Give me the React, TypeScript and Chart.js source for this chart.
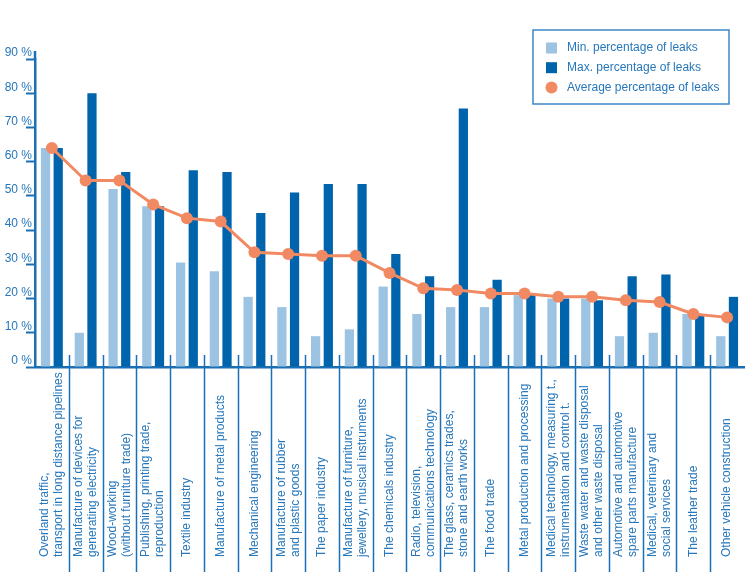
import React, { useEffect, useRef } from "react";
import { Chart, registerables } from "chart.js";

Chart.register(...registerables);

const categories: string[][] = [
  ["Overland traffic,", "transport in long distance pipelines"],
  ["Manufacture of devices for", "generating electricity"],
  ["Wood-working", "(without furniture trade)"],
  ["Publishing, printing trade,", "reproduction"],
  ["Textile industry"],
  ["Manufacture of metal products"],
  ["Mechanical engineering"],
  ["Manufacture of rubber", "and plastic goods"],
  ["The paper industry"],
  ["Manufacture of furniture,", "jewellery, musical instruments"],
  ["The chemicals industry"],
  ["Radio, television,", "communications technology"],
  ["The glass, ceramics trades,", "stone and earth works"],
  ["The food trade"],
  ["Metal production and processing"],
  ["Medical technology, measuring t.,", "instrumentation and control t."],
  ["Waste water and waste disposal", "and other waste disposal"],
  ["Automotive and automotive", "spare parts manufacture"],
  ["Medical, veterinary and", "social services"],
  ["The leather trade"],
  ["Other vehicle construction"],
];

const minLeaks = [64, 10, 52, 47, 30.5, 28, 20.5, 17.5, 9, 11, 23.5, 15.5, 17.5, 17.5, 21, 20, 20, 9, 10, 15.5, 9];
const maxLeaks = [64, 80, 57, 47, 57.5, 57, 45, 51, 53.5, 53.5, 33, 26.5, 75.5, 25.5, 21.5, 20, 19.5, 26.5, 27, 15, 20.5];
const avgLeaks = [64, 54.5, 54.5, 47.5, 43.5, 42.5, 33.5, 33, 32.5, 32.5, 27.5, 23, 22.5, 21.5, 21.5, 20.5, 20.5, 19.5, 19, 15.5, 14.5];

const seriesNames = ["Min. percentage of leaks", "Max. percentage of leaks", "Average percentage of leaks"];
const yTicks = [0, 10, 20, 30, 40, 50, 60, 70, 80, 90];

const LIGHT = "#9cc3e1";
const DARK = "#0064ad";
const ORANGE = "#f18a62";
const AXIS = "#1a6fb5";
const TEXT = "#2677bb";
const FONT = '"Liberation Sans", Arial, sans-serif';

const decorPlugin = {
  id: "decor",
  afterDraw(chart: any) {
    const { ctx, chartArea } = chart;
    const xs = chart.scales.x;
    ctx.save();
    // category separators
    ctx.strokeStyle = AXIS;
    ctx.lineWidth = 1.5;
    for (let i = 0; i < categories.length - 1; i++) {
      const x = Math.round((xs.getPixelForValue(i) + xs.getPixelForValue(i + 1)) / 2) + 0.5;
      ctx.beginPath();
      ctx.moveTo(x, chartArea.bottom - 12);
      ctx.lineTo(x, chartArea.bottom + 205);
      ctx.stroke();
    }
    // y axis small extension above top tick
    ctx.lineWidth = 2.5;
    ctx.beginPath();
    ctx.moveTo(chartArea.left, chartArea.top - 8);
    ctx.lineTo(chartArea.left, chartArea.top);
    ctx.stroke();

    // x labels, rotated, anchored at bottom
    ctx.fillStyle = TEXT;
    ctx.font = `12px ${FONT}`;
    ctx.textAlign = "left";
    ctx.textBaseline = "middle";
    categories.forEach((lines, i) => {
      const cx = xs.getPixelForValue(i);
      lines.forEach((t, j) => {
        const x = cx + (j - (lines.length - 1) / 2) * 14;
        ctx.save();
        ctx.translate(x, chartArea.bottom + 190);
        ctx.rotate(-Math.PI / 2);
        ctx.fillText(t, 0, 0);
        ctx.restore();
      });
    });

    // legend box
    const lx = chartArea.right - 211;
    const ly = 30;
    const lw = 196;
    const lh = 74;
    ctx.fillStyle = "#ffffff";
    ctx.fillRect(lx, ly, lw, lh);
    ctx.strokeStyle = "#3d87c6";
    ctx.lineWidth = 1.5;
    ctx.strokeRect(lx, ly, lw, lh);
    const colors = [LIGHT, DARK, ORANGE];
    seriesNames.forEach((name, k) => {
      const y = ly + 18 + k * 19.7;
      ctx.fillStyle = colors[k];
      if (k < 2) {
        ctx.fillRect(lx + 13, y - 5.5, 11, 11);
      } else {
        ctx.beginPath();
        ctx.arc(lx + 18.5, y, 6, 0, Math.PI * 2);
        ctx.fill();
      }
      ctx.fillStyle = TEXT;
      ctx.font = `12px ${FONT}`;
      ctx.textAlign = "left";
      ctx.textBaseline = "middle";
      ctx.fillText(name, lx + 34, y);
    });
    ctx.restore();
  },
};

export default function App() {
  const ref = useRef<HTMLCanvasElement>(null);
  useEffect(() => {
    Chart.defaults.font.family = FONT;
    const chart = new Chart(ref.current as HTMLCanvasElement, {
      type: "bar",
      data: {
        labels: categories.map((c) => c.join(" ")),
        datasets: [
          {
            type: "bar",
            label: seriesNames[0],
            data: minLeaks,
            backgroundColor: LIGHT,
            categoryPercentage: 0.75,
            barPercentage: 0.73,
            order: 1,
          },
          {
            type: "bar",
            label: seriesNames[1],
            data: maxLeaks,
            backgroundColor: DARK,
            categoryPercentage: 0.75,
            barPercentage: 0.73,
            order: 2,
          },
          {
            type: "line",
            label: seriesNames[2],
            data: avgLeaks,
            borderColor: ORANGE,
            backgroundColor: ORANGE,
            borderWidth: 3,
            pointRadius: 6,
            pointBorderWidth: 0,
            pointBackgroundColor: ORANGE,
            tension: 0,
            order: 0,
          } as any,
        ],
      },
      options: {
        animation: false,
        responsive: true,
        maintainAspectRatio: false,
        layout: { padding: { top: 59, right: 6, bottom: 0, left: 0 } },
        plugins: { legend: { display: false }, tooltip: { enabled: false } },
        scales: {
          x: {
            ticks: { display: false },
            grid: { display: true, drawOnChartArea: false, drawTicks: false },
            border: { display: true, color: AXIS, width: 2.5 },
            afterFit: (s: any) => {
              s.height = 211;
            },
          },
          y: {
            min: 0,
            max: 90,
            afterBuildTicks: (s: any) => {
              s.ticks = yTicks.map((v) => ({ value: v }));
            },
            ticks: {
              stepSize: 10,
              callback: (v: any) => `${v} %`,
              color: TEXT,
              font: { size: 12 },
              padding: -6,
              labelOffset: -6,
            },
            grid: {
              drawOnChartArea: false,
              drawTicks: true,
              tickLength: 9,
              tickColor: AXIS,
              tickWidth: 2,
            },
            border: { display: true, color: AXIS, width: 2.5 },
            afterFit: (s: any) => {
              s.width = 35;
            },
          },
        },
      },
      plugins: [decorPlugin],
    });
    return () => chart.destroy();
  }, []);
  return (
    <div style={{ position: "fixed", left: 0, top: 0, width: 750, height: 578, background: "#fff" }}>
      <canvas ref={ref} />
    </div>
  );
}
